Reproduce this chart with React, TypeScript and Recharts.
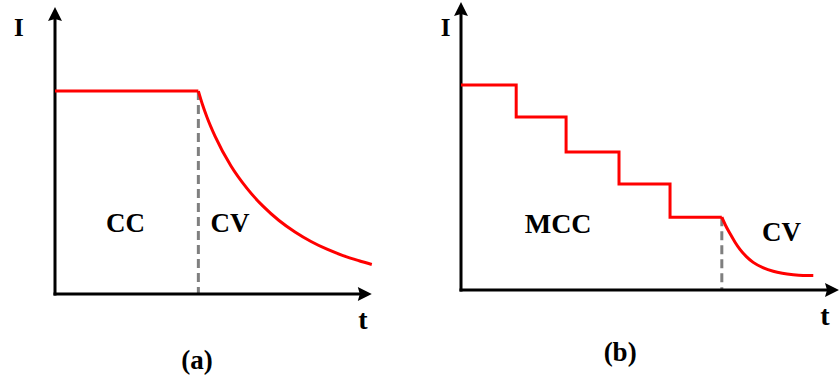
import React from 'react';
import { LineChart, Line, XAxis, YAxis, ReferenceLine, ReferenceDot } from 'recharts';

// Panel (a): CC-CV charging
const ccLevelA = [
  { t: 0, I: 70.7 },
  { t: 44.8, I: 70.7 },
];
const cvCurveA = [
  { t: 44.8, I: 70.7 },
  { t: 46.0, I: 66.3 },
  { t: 47.5, I: 61.6 },
  { t: 50.0, I: 55.0 },
  { t: 55.0, I: 44.6 },
  { t: 60.0, I: 36.8 },
  { t: 65.0, I: 30.6 },
  { t: 70.0, I: 25.6 },
  { t: 75.0, I: 21.6 },
  { t: 80.0, I: 18.3 },
  { t: 85.0, I: 15.6 },
  { t: 90.0, I: 13.4 },
  { t: 95.0, I: 11.6 },
  { t: 99.0, I: 10.3 },
];
const switchA = { t: 44.8, I: 70.7 };

// Panel (b): MCC-CV charging
const mccSteps = [
  { t: 0, I: 71.2 },
  { t: 14.6, I: 60.1 },
  { t: 27.8, I: 47.9 },
  { t: 41.8, I: 36.8 },
  { t: 55.3, I: 25.3 },
  { t: 69.0, I: 25.3 },
];
const cvCurveB = [
  { t: 69.0, I: 25.3 },
  { t: 70.0, I: 22.4 },
  { t: 71.2, I: 19.5 },
  { t: 72.5, I: 16.6 },
  { t: 73.8, I: 14.1 },
  { t: 75.5, I: 11.6 },
  { t: 77.3, I: 9.6 },
  { t: 80.0, I: 7.7 },
  { t: 82.6, I: 6.5 },
  { t: 85.0, I: 5.8 },
  { t: 87.9, I: 5.3 },
  { t: 90.5, I: 5.05 },
  { t: 93.2, I: 5.0 },
];
const switchB = { t: 69.0, I: 25.3 };

const labelsA = [
  { text: 'I', t: -11.3, I: 89.9, size: 25 },
  { text: 'CC', t: 22.0, I: 21.6, size: 27 },
  { text: 'CV', t: 54.7, I: 21.6, size: 27 },
  { text: 't', t: 96.2, I: -12.2, size: 28 },
  { text: '(a)', t: 44.4, I: -26.2, size: 27 },
];
const labelsB = [
  { text: 'I', t: -4.1, I: 88.2, size: 25 },
  { text: 'MCC', t: 25.7, I: 19.8, size: 28 },
  { text: 'CV', t: 84.8, I: 17.0, size: 27 },
  { text: 't', t: 96.3, I: -12.2, size: 28 },
  { text: '(b)', t: 42.1, I: -24.8, size: 27 },
];

const axisEndA = { x: 99, y: 100 };
const axisEndB = { x: 100, y: 100 };

const FONT = "'Liberation Serif', 'Times New Roman', serif";
const RED = '#ff0000';
const GRAY = '#7f7f7f';

const ArrowUp = (props: any) => {
  const { cx, cy } = props;
  return (
    <polygon
      points={`${cx},${cy} ${cx - 7},${cy + 14} ${cx},${cy + 12} ${cx + 7},${cy + 14}`}
      fill="#000"
    />
  );
};
const ArrowRight = (props: any) => {
  const { cx, cy } = props;
  return (
    <polygon
      points={`${cx},${cy} ${cx - 14},${cy - 7} ${cx - 12},${cy} ${cx - 14},${cy + 7}`}
      fill="#000"
    />
  );
};
const makeText = (text: string, size: number) => (props: any) => (
  <text
    x={props.cx}
    y={props.cy}
    textAnchor="middle"
    fontFamily={FONT}
    fontWeight="bold"
    fontSize={size}
    fill="#000"
  >
    {text}
  </text>
);

type Pt = { t: number; I: number };

function Panel(props: {
  left: number;
  width: number;
  margin: { top: number; right: number; bottom: number; left: number };
  steps: Pt[];
  stepType: 'linear' | 'stepAfter';
  curve: Pt[];
  sw: Pt;
  labels: { text: string; t: number; I: number; size: number }[];
  axisEnd: { x: number; y: number };
}) {
  const { left, width, margin, steps, stepType, curve, sw, labels, axisEnd } = props;
  return (
    <div style={{ position: 'absolute', left, top: 0, width, height: 379 }}>
      <LineChart width={width} height={379} margin={margin}>
        <XAxis type="number" dataKey="t" domain={[0, 100]} hide allowDataOverflow />
        <YAxis type="number" dataKey="I" domain={[0, 100]} hide allowDataOverflow />
        <ReferenceLine
          segment={[{ x: sw.t, y: sw.I }, { x: sw.t, y: 0 }]}
          stroke={GRAY}
          strokeWidth={3}
          strokeDasharray="9 5"
          ifOverflow="visible"
        />
        <ReferenceLine
          segment={[{ x: 0, y: 0 }, { x: axisEnd.x - 3, y: 0 }]}
          stroke="#000"
          strokeWidth={3}
          strokeLinecap="square"
          ifOverflow="visible"
        />
        <ReferenceLine
          segment={[{ x: 0, y: 0 }, { x: 0, y: axisEnd.y - 4 }]}
          stroke="#000"
          strokeWidth={3}
          strokeLinecap="square"
          ifOverflow="visible"
        />
        <ReferenceDot x={0} y={axisEnd.y} r={0} shape={ArrowUp} ifOverflow="visible" />
        <ReferenceDot x={axisEnd.x} y={0} r={0} shape={ArrowRight} ifOverflow="visible" />
        <Line
          data={steps}
          dataKey="I"
          type={stepType}
          stroke={RED}
          strokeWidth={3}
          dot={false}
          isAnimationActive={false}
        />
        <Line
          data={curve}
          dataKey="I"
          type="monotone"
          stroke={RED}
          strokeWidth={3}
          dot={false}
          isAnimationActive={false}
        />
        {labels.map((l) => (
          <ReferenceDot
            key={l.text}
            x={l.t}
            y={l.I}
            r={0}
            shape={makeText(l.text, l.size)}
            ifOverflow="visible"
          />
        ))}
      </LineChart>
    </div>
  );
}

export default function App() {
  return (
    <div
      style={{
        position: 'absolute',
        left: 0,
        top: 0,
        width: 840,
        height: 379,
        background: '#fff',
        overflow: 'hidden',
      }}
    >
      <Panel
        left={0}
        width={420}
        margin={{ top: 7, right: 45, bottom: 85, left: 55 }}
        steps={ccLevelA}
        stepType="linear"
        curve={cvCurveA}
        sw={switchA}
        labels={labelsA}
        axisEnd={axisEndA}
      />
      <Panel
        left={420}
        width={420}
        margin={{ top: 2, right: 1, bottom: 89, left: 41 }}
        steps={mccSteps}
        stepType="stepAfter"
        curve={cvCurveB}
        sw={switchB}
        labels={labelsB}
        axisEnd={axisEndB}
      />
    </div>
  );
}
